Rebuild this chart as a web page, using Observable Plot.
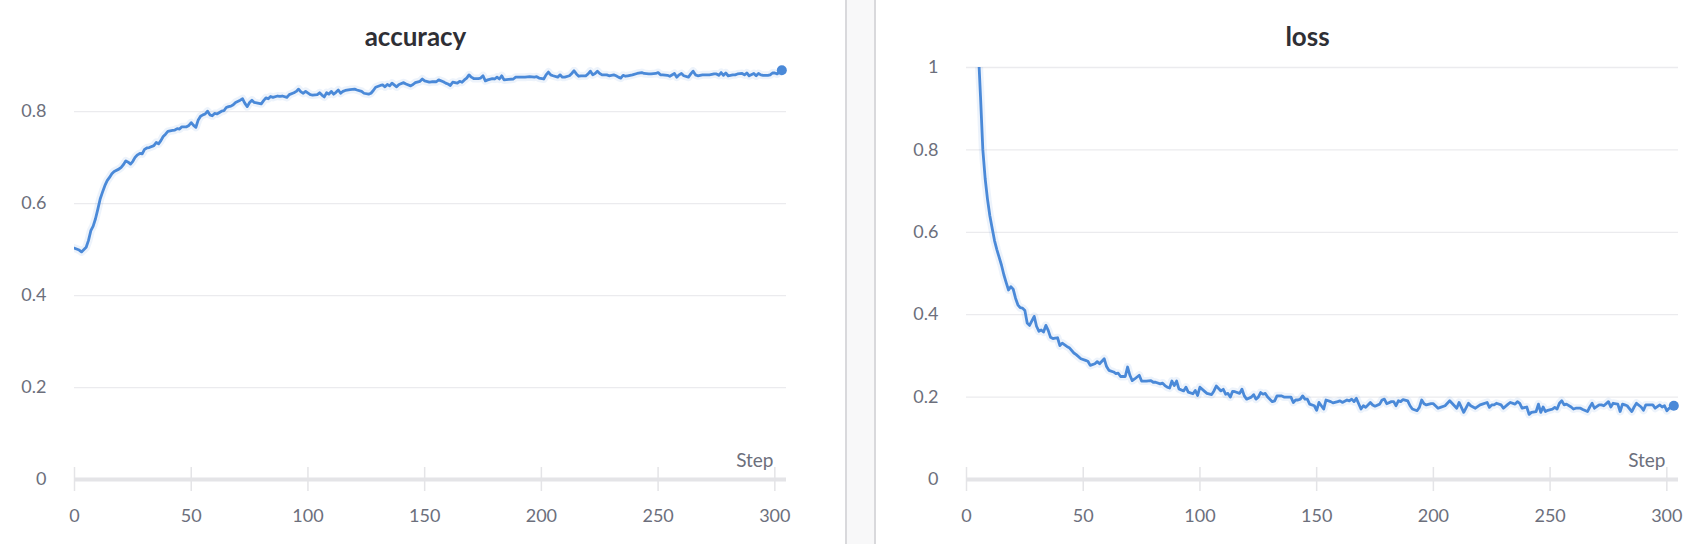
<!DOCTYPE html>
<html><head><meta charset="utf-8">
<script src="https://cdn.jsdelivr.net/npm/d3@7"></script>
<script src="https://cdn.jsdelivr.net/npm/@observablehq/plot@0.6"></script>
<style>
html,body{margin:0;padding:0;background:#fff;}
#wrap{display:flex;width:1700px;height:544px;overflow:hidden;}
#wrap svg{display:block;}
#sep{flex:none;width:31px;height:544px;background:#f8f8f9;border-left:2px solid #d9d9dc;border-right:2px solid #d9d9dc;box-sizing:border-box;}
</style></head><body>
<div id="wrap"><div id="left"></div><div id="sep"></div><div id="right"></div></div>
<script>
const accSteps = [0,2,3,5,6,7,8,9,10,11,12,13,14,15,16,17,19,20,21,22,23,24,25,26,27,28,29,30,31,32,34,35,36,37,38,39,40,42,43,44,45,46,48,49,50,51,52,53,54,55,56,57,58,59,60,61,63,64,65,66,67,68,69,71,72,73,74,75,76,77,79,80,81,82,83,84,85,87,88,89,91,92,94,95,96,97,98,99,101,102,104,105,106,107,108,109,110,111,112,113,114,115,116,118,120,121,123,124,126,127,128,129,131,132,133,134,135,136,138,139,141,142,144,145,146,148,149,150,152,153,155,156,158,159,160,161,162,164,165,166,167,168,169,170,171,173,174,175,176,177,179,180,181,182,183,184,186,188,189,191,193,195,197,198,199,201,202,203,204,205,207,208,209,210,212,213,214,215,216,217,219,220,221,222,223,224,225,226,228,229,231,232,233,234,235,236,237,239,241,243,244,246,247,249,250,251,252,254,255,257,258,259,260,261,263,264,265,266,267,269,271,272,274,275,276,277,278,279,280,282,283,284,286,287,288,289,291,292,293,294,295,297,298,299,300,301,302,303];
const accValues = [0.503,0.499,0.495,0.505,0.52,0.541,0.551,0.567,0.588,0.61,0.625,0.639,0.65,0.657,0.665,0.67,0.675,0.679,0.685,0.693,0.69,0.686,0.692,0.701,0.706,0.709,0.708,0.718,0.721,0.722,0.726,0.733,0.73,0.737,0.746,0.751,0.757,0.759,0.76,0.763,0.762,0.767,0.767,0.77,0.776,0.77,0.766,0.782,0.79,0.793,0.795,0.801,0.793,0.791,0.796,0.795,0.801,0.802,0.809,0.811,0.812,0.815,0.82,0.825,0.828,0.818,0.811,0.82,0.825,0.82,0.818,0.817,0.824,0.83,0.828,0.833,0.831,0.834,0.833,0.834,0.831,0.837,0.841,0.844,0.849,0.843,0.84,0.844,0.837,0.836,0.837,0.841,0.836,0.832,0.841,0.838,0.844,0.838,0.842,0.847,0.84,0.844,0.846,0.848,0.849,0.847,0.844,0.84,0.838,0.84,0.846,0.853,0.857,0.858,0.854,0.859,0.856,0.862,0.854,0.859,0.863,0.86,0.856,0.859,0.863,0.866,0.871,0.867,0.864,0.865,0.865,0.869,0.865,0.862,0.86,0.857,0.864,0.862,0.866,0.864,0.869,0.873,0.88,0.875,0.872,0.872,0.873,0.878,0.867,0.869,0.872,0.871,0.875,0.871,0.878,0.869,0.87,0.871,0.875,0.875,0.875,0.876,0.875,0.876,0.873,0.871,0.88,0.886,0.88,0.878,0.875,0.88,0.875,0.875,0.878,0.883,0.889,0.882,0.877,0.878,0.878,0.882,0.888,0.88,0.883,0.888,0.883,0.88,0.88,0.878,0.88,0.878,0.875,0.873,0.879,0.877,0.878,0.88,0.883,0.885,0.883,0.882,0.882,0.883,0.885,0.88,0.88,0.879,0.877,0.883,0.875,0.88,0.883,0.878,0.875,0.882,0.888,0.88,0.878,0.88,0.88,0.88,0.882,0.882,0.879,0.885,0.879,0.884,0.878,0.88,0.88,0.882,0.883,0.88,0.884,0.878,0.883,0.878,0.883,0.88,0.879,0.879,0.88,0.884,0.884,0.882,0.886,0.89];
const lossSteps = [0,2,4,5,6,7,8,9,10,11,12,13,14,15,16,17,18,19,20,21,22,23,24,25,26,27,28,29,30,31,32,33,34,35,36,37,38,39,40,41,43,44,46,47,49,51,52,53,55,56,57,59,60,61,63,64,65,66,68,69,70,71,72,74,75,77,79,80,81,83,84,85,86,87,88,89,90,91,93,94,95,97,98,99,100,102,103,105,106,107,109,110,111,112,113,114,115,117,118,119,120,122,123,124,125,126,127,128,129,131,132,133,135,136,138,139,140,141,142,143,144,145,146,147,149,150,151,152,153,154,156,157,159,160,161,163,164,165,166,167,168,169,170,171,173,174,175,177,178,179,180,182,183,184,185,186,187,189,190,191,193,194,195,196,197,199,200,202,203,205,207,208,210,211,212,213,215,216,218,220,221,223,224,225,226,227,229,230,232,233,235,236,237,238,240,241,242,244,245,246,247,248,249,251,252,253,254,255,256,257,259,260,261,263,264,266,267,268,269,271,272,273,275,276,277,279,280,281,282,283,285,286,287,289,290,291,293,294,295,297,298,299,300,301,303];
const lossValues = [2.3,1.6,1.2,1.05,0.93,0.8,0.73,0.68,0.64,0.61,0.58,0.558,0.539,0.52,0.497,0.478,0.46,0.468,0.462,0.44,0.424,0.417,0.416,0.41,0.38,0.374,0.385,0.396,0.372,0.36,0.363,0.358,0.374,0.362,0.345,0.342,0.343,0.344,0.325,0.331,0.323,0.32,0.307,0.303,0.293,0.289,0.287,0.277,0.281,0.286,0.281,0.293,0.274,0.265,0.261,0.257,0.258,0.25,0.25,0.273,0.253,0.24,0.244,0.253,0.239,0.239,0.24,0.236,0.236,0.232,0.234,0.228,0.224,0.222,0.239,0.228,0.239,0.22,0.215,0.224,0.212,0.208,0.216,0.204,0.224,0.214,0.209,0.206,0.215,0.227,0.215,0.219,0.207,0.209,0.2,0.214,0.213,0.209,0.219,0.203,0.195,0.2,0.206,0.195,0.2,0.211,0.207,0.209,0.2,0.189,0.191,0.203,0.203,0.2,0.2,0.2,0.187,0.193,0.193,0.195,0.203,0.195,0.195,0.183,0.179,0.168,0.187,0.179,0.171,0.193,0.189,0.186,0.189,0.191,0.187,0.193,0.191,0.195,0.189,0.197,0.184,0.171,0.179,0.175,0.187,0.181,0.178,0.183,0.193,0.195,0.184,0.189,0.189,0.179,0.191,0.189,0.194,0.191,0.179,0.171,0.167,0.175,0.193,0.184,0.181,0.184,0.184,0.173,0.175,0.179,0.191,0.185,0.173,0.187,0.175,0.163,0.185,0.179,0.173,0.181,0.183,0.187,0.175,0.181,0.181,0.185,0.181,0.173,0.183,0.187,0.183,0.189,0.185,0.173,0.176,0.158,0.163,0.165,0.183,0.163,0.176,0.165,0.168,0.171,0.175,0.171,0.185,0.191,0.181,0.183,0.176,0.171,0.173,0.173,0.17,0.165,0.176,0.185,0.173,0.181,0.181,0.179,0.189,0.176,0.185,0.183,0.165,0.183,0.181,0.179,0.165,0.176,0.185,0.176,0.168,0.181,0.181,0.181,0.173,0.181,0.176,0.179,0.167,0.173,0.179];
const xTicks = [0, 50, 100, 150, 200, 250, 300];
const accYTicks = [0, 0.2, 0.4, 0.6, 0.8];
const lossYTicks = [0, 0.2, 0.4, 0.6, 0.8, 1];
const titles = ["accuracy", "loss"];
const xLabel = "Step";

const LINE = "#4a89d8";
const GRAY = "#6c6f7c";

function panel({steps, values, yDomain, yTicks, title, width, marginLeft, marginRight}) {
  const data = steps.map((s, i) => ({step: s, value: values[i]}));
  const last = data[data.length - 1];
  return Plot.plot({
    width, height: 544,
    marginLeft, marginRight, marginTop: 67, marginBottom: 65,
    style: {fontFamily: "Lato, sans-serif", background: "#fff", color: GRAY},
    x: {domain: [0, 305]},
    y: {domain: yDomain},
    marks: [
      Plot.ruleY(yTicks.filter(d => d > 0), {stroke: "#ebebee", strokeWidth: 1.3}),
      Plot.ruleY([0], {stroke: "#e4e4e7", strokeWidth: 4}),
      Plot.ruleX(xTicks, {x: d => d, y1: 0, y2: 0, insetTop: -12, insetBottom: -12, stroke: "#e4e4e7", strokeWidth: 1.5}),
      Plot.axisX({ticks: xTicks, tickSize: 0, tickPadding: 30, fontSize: 18, color: GRAY, label: null}),
      Plot.axisY({ticks: yTicks, tickSize: 0, tickPadding: 28, fontSize: 18, color: GRAY, label: null, tickFormat: d => String(d)}),
      Plot.line(data, {x: "step", y: "value", stroke: LINE, strokeWidth: 8, strokeOpacity: 0.1, clip: true}),
      Plot.line(data, {x: "step", y: "value", stroke: LINE, strokeWidth: 2.8, clip: true}),
      Plot.dot([last], {x: "step", y: "value", r: 5, fill: LINE, stroke: "none"}),
      Plot.text([xLabel], {frameAnchor: "bottom-right", textAnchor: "end", lineAnchor: "middle", dx: -13, dy: -19, fontSize: 19, fill: GRAY}),
      Plot.text([title], {frameAnchor: "top", lineAnchor: "bottom", dx: -15, dy: -22, fontSize: 26, fontWeight: "bold", fill: "#2f2f35"})
    ]
  });
}

document.getElementById("left").appendChild(panel({
  steps: accSteps, values: accValues, yDomain: [0, 0.896], yTicks: accYTicks,
  title: titles[0], width: 845, marginLeft: 74, marginRight: 59
}));
document.getElementById("right").appendChild(panel({
  steps: lossSteps, values: lossValues, yDomain: [0, 1], yTicks: lossYTicks,
  title: titles[1], width: 824, marginLeft: 90, marginRight: 22
}));
</script>
</body></html>
